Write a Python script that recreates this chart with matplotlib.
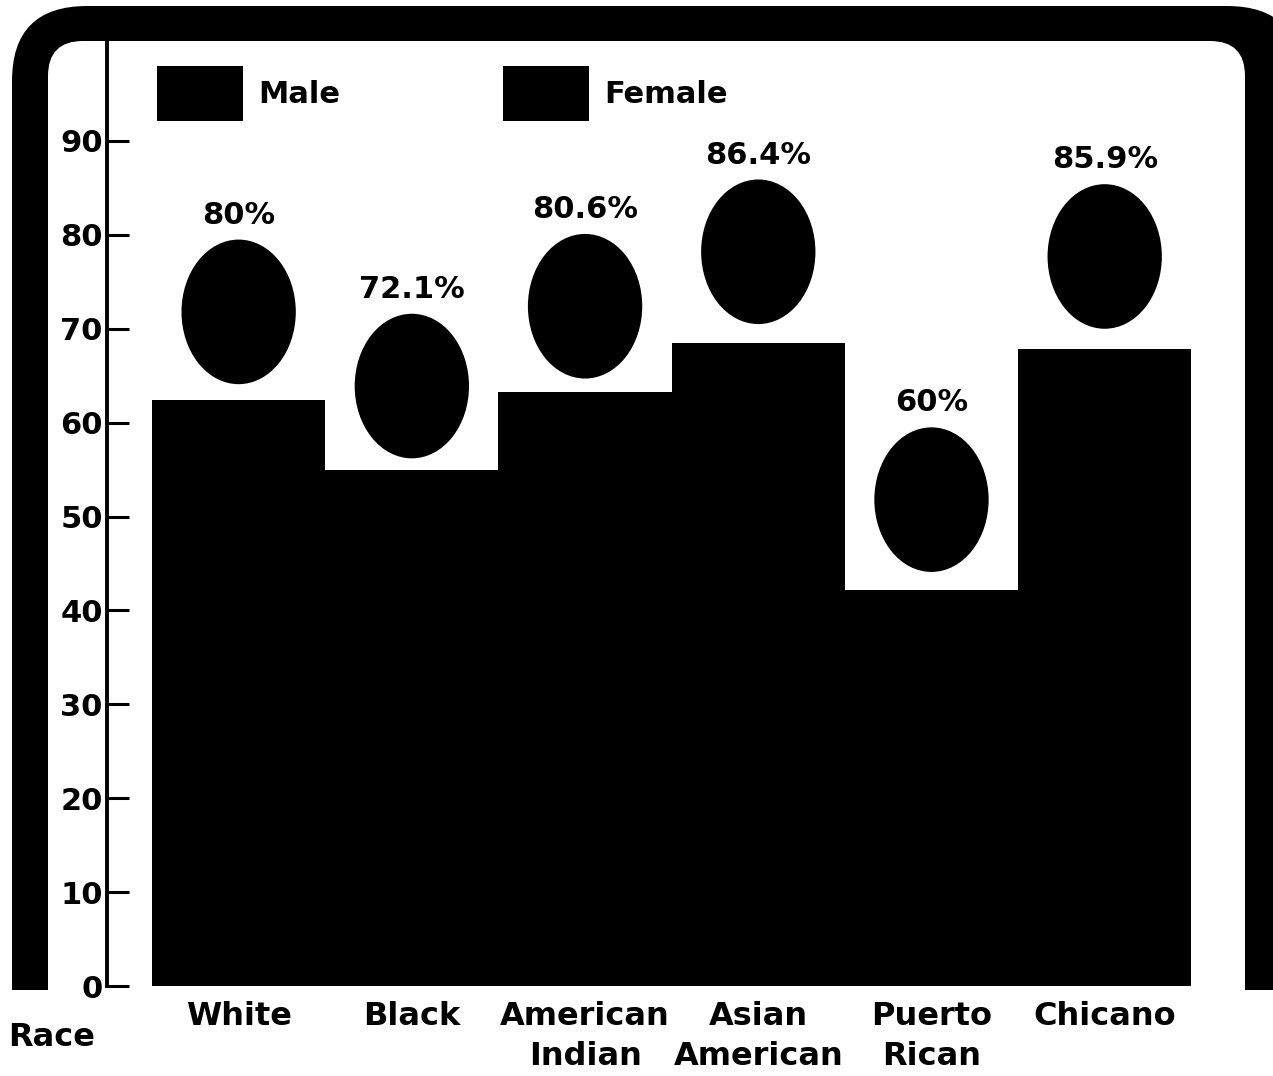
import matplotlib
matplotlib.use('Agg')
import matplotlib.pyplot as plt
from matplotlib.patches import Ellipse, FancyBboxPatch, Rectangle, Patch

plt.rcParams['font.family'] = 'DejaVu Sans'
plt.rcParams['font.weight'] = 'bold'

# data
races = ['White', 'Black', 'American\nIndian', 'Asian\nAmerican', 'Puerto\nRican', 'Chicano']
male = [62.4, 55.0, 63.3, 68.5, 42.2, 67.8]
female = [80, 72.1, 80.6, 86.4, 60, 85.9]
female_labels = ['80%', '72.1%', '80.6%', '86.4%', '60%', '85.9%']
y_ticks = [0, 10, 20, 30, 40, 50, 60, 70, 80, 90]

W, H = 1273, 1076
fig = plt.figure(figsize=(W / 100, H / 100), dpi=100)

# background frame (rounded black border, open at the bottom), pixel coords
bg = fig.add_axes([0, 0, 1, 1])
bg.set_xlim(0, W)
bg.set_ylim(H, 0)
bg.axis('off')
bg.add_patch(FancyBboxPatch((12, 6), 1290, 1200,
                            boxstyle='round,pad=0,rounding_size=75',
                            fc='black', ec='none'))
bg.add_patch(FancyBboxPatch((48, 41), 1197, 1200,
                            boxstyle='round,pad=0,rounding_size=35',
                            fc='white', ec='none'))
bg.add_patch(Rectangle((0, 990), W, 100, fc='white', ec='none'))
bg.text(52, 1037, 'Race', fontsize=23, ha='center', va='center')

# main chart area
px_per_unit = (986 - 141) / 90
left, right, top, bottom = 107, 1245, 40, 986
ax = fig.add_axes([left / W, (H - bottom) / H, (right - left) / W, (bottom - top) / H])
ax.patch.set_alpha(0)
ax.set_ylim(0, (bottom - top) / px_per_unit)
ax.set_xlim(-0.76, 5.81)

x = range(len(races))
ax.bar(x, male, width=1.0, color='black')
for i, f in enumerate(female):
    ax.add_patch(Ellipse((i, f - 0.5 - 7.7), 0.66, 15.4, fc='black', ec='none'))
    ax.text(i, f + 1.2, female_labels[i], ha='center', va='baseline', fontsize=22)

for s in ['top', 'right', 'bottom']:
    ax.spines[s].set_visible(False)
ax.spines['left'].set_linewidth(2.8)

ax.set_yticks(y_ticks)
ax.tick_params(axis='y', direction='in', length=16, width=2.2, labelsize=22, pad=3)
ax.set_xticks(list(x))
ax.set_xticklabels(races, fontsize=23, linespacing=1.35)
ax.tick_params(axis='x', length=0, pad=11)

ax.legend(handles=[Patch(fc='black', label='Male'), Patch(fc='black', label='Female')],
          ncol=2, loc='upper left', bbox_to_anchor=(157 / W, 1 - 66 / H),
          bbox_transform=fig.transFigure, frameon=False, fontsize=22,
          handlelength=2.8, handleheight=2.4, handletextpad=0.5,
          columnspacing=5.35, borderpad=0, borderaxespad=0)

fig.savefig('out.png', dpi=100)
